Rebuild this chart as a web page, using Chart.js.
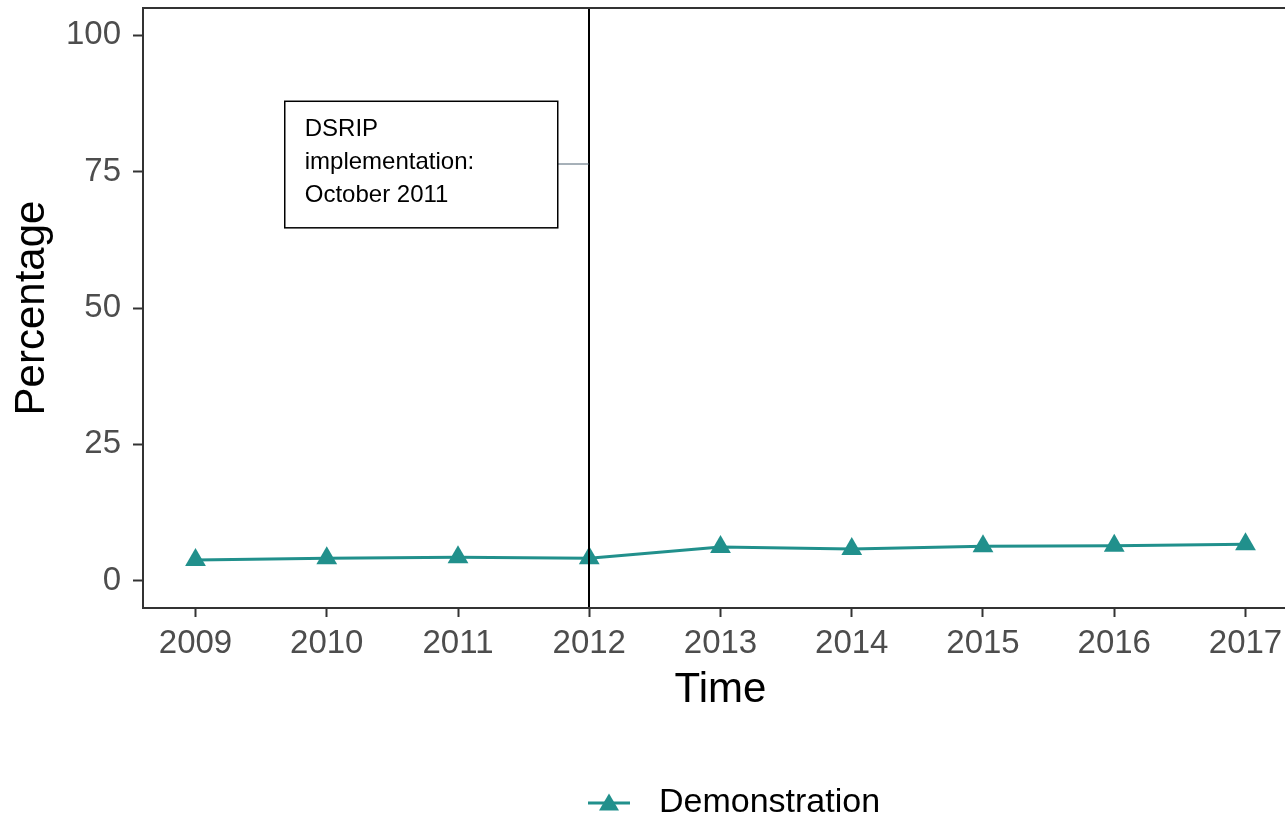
<!DOCTYPE html>
<html><head><meta charset="utf-8">
<script src="https://cdn.jsdelivr.net/npm/chart.js@4.4.0/dist/chart.umd.min.js"></script>
<style>html,body{margin:0;padding:0;overflow:hidden;background:#fff;width:1285px;height:821px}canvas{display:block}</style>
</head><body>
<canvas id="c" width="1310" height="840" style="width:1310px;height:840px"></canvas>
<script>
const years = [2009, 2010, 2011, 2012, 2013, 2014, 2015, 2016, 2017];
const demonstration = [3.8, 4.1, 4.3, 4.1, 6.2, 5.8, 6.3, 6.4, 6.7];
const yTicks = [0, 25, 50, 75, 100];
const seriesLabel = 'Demonstration';
const implementationYear = 2012;
const annotationLines = ['DSRIP', 'implementation:', 'October 2011'];

const FONT = '"Liberation Sans", Arial, sans-serif';
const TEAL = '#21908C';
const zeroPad = () => ({ left: 0, top: 0, right: 0, bottom: 0 });

// legend symbol: line with triangle (left transparent margin shifts the legend to match the original centring)
function legendSymbol() {
  const pad = 170;
  const c = document.createElement('canvas');
  c.width = pad + 54; c.height = 24;
  const g = c.getContext('2d');
  g.strokeStyle = TEAL; g.lineWidth = 3;
  g.beginPath(); g.moveTo(pad, 12); g.lineTo(pad + 42, 12); g.stroke();
  g.fillStyle = TEAL;
  g.beginPath(); g.moveTo(pad + 21, 2.5); g.lineTo(pad + 31, 19.5); g.lineTo(pad + 11, 19.5); g.closePath(); g.fill();
  return c;
}

const overlay = {
  id: 'overlay',
  afterDatasetsDraw(chart) {
    const ctx = chart.ctx, a = chart.chartArea;
    const xs = chart.scales.x, ys = chart.scales.y;
    ctx.save();
    const vx = Math.round(xs.getPixelForValue(implementationYear));
    ctx.strokeStyle = '#000'; ctx.lineWidth = 2;
    ctx.beginPath(); ctx.moveTo(vx, a.top); ctx.lineTo(vx, a.bottom); ctx.stroke();
    const bl = xs.getPixelForValue(2009.68), br = xs.getPixelForValue(2011.76);
    const bt = ys.getPixelForValue(87.9), bb = ys.getPixelForValue(64.7);
    const cy = ys.getPixelForValue(76.4);
    ctx.strokeStyle = '#4f6272'; ctx.lineWidth = 1;
    ctx.beginPath(); ctx.moveTo(br, cy); ctx.lineTo(vx, cy); ctx.stroke();
    ctx.fillStyle = '#fff';
    ctx.fillRect(bl, bt, br - bl, bb - bt);
    ctx.strokeStyle = '#000'; ctx.lineWidth = 1.5;
    ctx.strokeRect(bl, bt, br - bl, bb - bt);
    ctx.fillStyle = '#000';
    ctx.font = '24px ' + FONT;
    ctx.textBaseline = 'middle'; ctx.textAlign = 'left';
    annotationLines.forEach((t, i) => ctx.fillText(t, bl + 20, bt + 28 + i * 33));
    ctx.strokeStyle = '#333'; ctx.lineWidth = 2;
    ctx.strokeRect(a.left, a.top, a.right - a.left, a.bottom - a.top);
    ctx.restore();
  }
};

new Chart(document.getElementById('c'), {
  type: 'line',
  data: {
    datasets: [{
      label: seriesLabel,
      data: years.map((yr, i) => ({ x: yr, y: demonstration[i] })),
      borderColor: TEAL,
      backgroundColor: TEAL,
      borderWidth: 3,
      pointStyle: 'triangle',
      pointRadius: 12,
      pointBorderWidth: 0,
      pointBackgroundColor: TEAL,
      tension: 0
    }]
  },
  options: {
    responsive: false,
    devicePixelRatio: 1,
    animation: false,
    layout: { autoPadding: false, padding: { top: 8, right: 12, bottom: 10, left: 0 } },
    plugins: {
      tooltip: { enabled: false },
      legend: {
        position: 'bottom',
        labels: {
          usePointStyle: true,
          pointStyleWidth: 224,
          padding: 0,
          color: '#000',
          font: { family: FONT, size: 34 },
          generateLabels(chart) {
            return [{ text: seriesLabel, pointStyle: legendSymbol(), fillStyle: TEAL, strokeStyle: TEAL, lineWidth: 0, datasetIndex: 0, fontColor: '#000' }];
          }
        }
      }
    },
    scales: {
      x: {
        type: 'linear',
        min: 2008.6, max: 2017.4,
        afterBuildTicks(s) { s.ticks = years.map(v => ({ value: v })); },
        afterFit(s) { s.height = 178; s.paddingLeft = 0; s.paddingRight = 0; s.getPadding = zeroPad; },
        grid: { drawOnChartArea: false, drawTicks: true, tickLength: 9, tickWidth: 2, tickColor: '#333' },
        border: { display: false },
        ticks: { color: '#4D4D4D', font: { family: FONT, size: 33 }, padding: 7, maxRotation: 0, autoSkip: false, callback: v => String(v) },
        title: { display: true, text: 'Time', color: '#000', font: { family: FONT, size: 42 }, padding: { top: 0, bottom: 70 } }
      },
      y: {
        type: 'linear',
        min: -5, max: 105,
        afterBuildTicks(s) { s.ticks = yTicks.map(v => ({ value: v })); },
        afterFit(s) { s.width = 143; s.paddingTop = 0; s.paddingBottom = 0; s.getPadding = zeroPad; },
        grid: { drawOnChartArea: false, drawTicks: true, tickLength: 10, tickWidth: 2, tickColor: '#333' },
        border: { display: false },
        ticks: { color: '#4D4D4D', font: { family: FONT, size: 33 }, padding: 12, callback: v => String(v) },
        title: { display: true, text: 'Percentage', color: '#000', font: { family: FONT, size: 42 }, padding: { top: 7, bottom: 0 } }
      }
    }
  },
  plugins: [overlay]
});
</script>
</body></html>
